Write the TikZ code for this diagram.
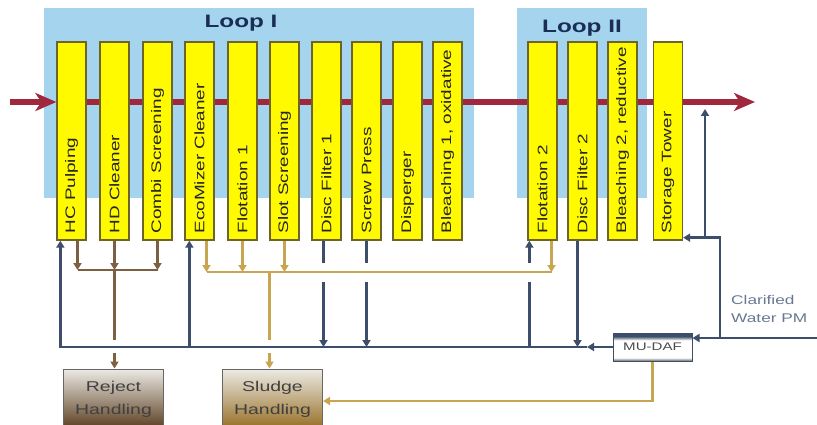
\documentclass[tikz,border=0pt]{standalone}
\usepackage{fontspec}
\setmainfont{Liberation Sans}
\usepackage{graphicx}
\definecolor{loopblue}{RGB}{165,212,238}
\definecolor{unityellow}{RGB}{255,250,0}
\definecolor{unitedge}{RGB}{110,100,40}
\definecolor{pulpred}{RGB}{160,40,60}
\definecolor{waternavy}{RGB}{60,78,105}
\definecolor{rejectbrown}{RGB}{125,95,65}
\definecolor{sludgegold}{RGB}{200,165,80}
\definecolor{labelnavy}{RGB}{25,45,85}
\definecolor{cwgray}{RGB}{105,120,145}
\usetikzlibrary{arrows.meta,positioning,calc,backgrounds}
\newcommand{\widen}[1]{\scalebox{1.37}[1]{#1}}
\pgfdeclareverticalshading{mudafshade}{100bp}{color(0bp)=(black!50); color(26bp)=(black!50);
  color(31bp)=(white); color(62bp)=(white); color(69bp)=(waternavy); color(100bp)=(waternavy)}

\begin{document}
\begin{tikzpicture}[x=1pt, y=-1pt,
    unit/.style={rectangle, draw=unitedge, fill=unityellow, line width=1.3pt,
                 minimum width=29pt, minimum height=198pt, inner sep=0pt},
    unitlabel/.style={rotate=90, anchor=west, inner sep=0pt, text=black!85,
                 font=\fontsize{13.8}{14}\selectfont},
    loopbg/.style={rectangle, fill=loopblue, inner sep=0pt},
    looptitle/.style={text=labelnavy, font=\bfseries\fontsize{18}{20}\selectfont},
    handling/.style={rectangle, draw=black!60, line width=1pt, minimum width=100pt,
                 minimum height=60pt, align=center, text=black!75,
                 font=\fontsize{14.2}{23}\selectfont},
    flow/.style={line width=6pt, pulpred, -{Stealth[length=21pt,width=18pt,inset=6pt]}},
    water/.style={line width=2.9pt, waternavy},
    reject/.style={line width=2.7pt, rejectbrown},
    sludge/.style={line width=2.7pt, sludgegold},
    tip/.style={-{Triangle[length=7pt,width=8pt]}}]

\useasboundingbox (0,0) rectangle (817,425);

% process units
\node[unit] (hc) at (71.5,141) {};
\node[unit] (hd) at (114.5,141) {};
\node[unit] (combi) at (157.5,141) {};
\node[unit] (eco) at (199.5,141) {};
\node[unit] (flot1) at (242.5,141) {};
\node[unit] (slot) at (284.5,141) {};
\node[unit] (disc1) at (326.5,141) {};
\node[unit] (screw) at (366.5,141) {};
\node[unit] (disp) at (407.5,141) {};
\node[unit] (bleach1) at (447.5,141) {};
\node[unit] (flot2) at (542.5,141) {};
\node[unit] (disc2) at (582.5,141) {};
\node[unit] (bleach2) at (622.5,141) {};
\node[unit] (store) at (668,141) {};

\node[unitlabel] (hc-t) at ([yshift=7pt]hc.south) {\widen{HC Pulping}};
\node[unitlabel] (hd-t) at ([yshift=7pt]hd.south) {\widen{HD Cleaner}};
\node[unitlabel] (combi-t) at ([yshift=7pt]combi.south) {\widen{Combi Screening}};
\node[unitlabel] (eco-t) at ([yshift=7pt]eco.south) {\widen{EcoMizer Cleaner}};
\node[unitlabel] (flot1-t) at ([yshift=7pt]flot1.south) {\widen{Flotation 1}};
\node[unitlabel] (slot-t) at ([yshift=7pt]slot.south) {\widen{Slot Screening}};
\node[unitlabel] (disc1-t) at ([yshift=7pt]disc1.south) {\widen{Disc Filter 1}};
\node[unitlabel] (screw-t) at ([yshift=7pt]screw.south) {\widen{Screw Press}};
\node[unitlabel] (disp-t) at ([yshift=7pt]disp.south) {\widen{Disperger}};
\node[unitlabel] (bleach1-t) at ([yshift=7pt]bleach1.south) {\widen{Bleaching 1, oxidative}};
\node[unitlabel] (flot2-t) at ([yshift=7pt]flot2.south) {\widen{Flotation 2}};
\node[unitlabel] (disc2-t) at ([yshift=7pt]disc2.south) {\widen{Disc Filter 2}};
\node[unitlabel] (bleach2-t) at ([yshift=7pt]bleach2.south) {\widen{Bleaching 2, reductive}};
\node[unitlabel] (store-t) at ([yshift=7pt]store.south) {\widen{Storage Tower}};

\node[looptitle] (loop1-t) at (241,23) {\scalebox{1.35}[1]{Loop I}};
\node[looptitle] (loop2-t) at (582,28) {\scalebox{1.35}[1]{Loop II}};

% handling boxes
\node[handling, top color={rgb,255:red,236;green,234;blue,228},
      bottom color={rgb,255:red,90;green,60;blue,30}] (rejbox) at (113.5,399)
      {\widen{Reject}\\\widen{Handling}};
\node[handling, top color={rgb,255:red,236;green,234;blue,228},
      bottom color={rgb,255:red,150;green,110;blue,35}] (sludgebox) at (272.5,399)
      {\widen{Sludge}\\\widen{Handling}};
\node[rectangle, draw=waternavy, line width=1pt, minimum width=79pt, minimum height=28pt,
      shading=mudafshade, inner sep=0pt,
      text=black!70, font=\fontsize{11}{12}\selectfont] (mudaf) at (652.5,347) {\widen{MU-DAF}};
\node[anchor=west, align=left, text=cwgray, inner sep=0pt,
      font=\fontsize{12.6}{18}\selectfont] (cwlabel) at (731,309)
      {\widen{Clarified}\\\widen{Water PM}};

% stock flow
\coordinate (pulpin) at (10,102);
\coordinate (pulpout) at (755,102);
\draw[flow] (pulpin) -- (pulpin -| hc.west);
\begin{scope}[on background layer]
\node[loopbg, minimum width=430pt, minimum height=190pt] (loop1) at (259,103) {};
\node[loopbg, minimum width=130pt, minimum height=190pt] (loop2) at (582,103) {};
\draw[flow] (pulpin -| hc) -- (pulpout);
\end{scope}

% helper heights
\coordinate (rjbar) at (0,270);
\coordinate (sgbar) at (0,272);
\coordinate (gaptop) at (0,263);
\coordinate (gapbot) at (0,282);
\coordinate (xtop) at (0,340);
\coordinate (xbot) at (0,353);
\coordinate (wmid) at (587,347);
\coordinate (sdret) at (0,401);

% water
\coordinate (cwin) at (817,338);
\coordinate (cwup) at (720,338);
\coordinate (dilfoot) at (705,237);
\coordinate (diltop) at (705,109);
\draw[water,tip] (cwin) -- (cwin -| mudaf.east);
\draw[water,tip] (cwup) |- ([yshift=3pt]store.south east);
\draw[water,tip] (dilfoot) -- (diltop);
\draw[water,tip] (mudaf.west) -- (wmid);
\draw[water,tip] (wmid) -| ([xshift=4pt]hc.south west);
\draw[water,tip] ([xshift=5pt]eco.south west |- wmid) -- ([xshift=5pt]eco.south west);
\draw[water] ([xshift=2pt]flot2.south west |- wmid) -- ([xshift=2pt]flot2.south west |- gapbot);
\draw[water,tip] ([xshift=2pt]flot2.south west |- gaptop) -- ([xshift=2pt]flot2.south west);
\draw[water] ([xshift=-3pt]disc1.south) -- ([xshift=-3pt]disc1.south |- gaptop);
\draw[water,tip] ([xshift=-3pt]disc1.south |- gapbot) -- ([xshift=-3pt]disc1.south |- wmid);
\draw[water] (screw.south) -- (screw.south |- gaptop);
\draw[water,tip] (screw.south |- gapbot) -- (screw.south |- wmid);
\draw[water,tip] ([xshift=-5pt]disc2.south) -- ([xshift=-5pt]disc2.south |- wmid);

% rejects
\draw[reject,tip] ([xshift=6pt]hc.south) -- ([xshift=6pt]hc.south |- rjbar);
\draw[reject,tip] (hd.south) -- (hd.south |- rjbar);
\draw[reject,tip] (combi.south) -- (combi.south |- rjbar);
\draw[reject] ([xshift=6pt]hc.south |- rjbar) -- (combi.south |- rjbar);
\draw[reject] (hd.south |- rjbar) -- (hd.south |- xtop);
\draw[reject,tip] (hd.south |- xbot) -- (hd.south |- rejbox.north);

% sludge
\draw[sludge,tip] ([xshift=7pt]eco.south) -- ([xshift=7pt]eco.south |- sgbar);
\draw[sludge,tip] (flot1.south) -- (flot1.south |- sgbar);
\draw[sludge,tip] (slot.south) -- (slot.south |- sgbar);
\draw[sludge,tip] ([xshift=9pt]flot2.south) -- ([xshift=9pt]flot2.south |- sgbar);
\draw[sludge] ([xshift=7pt]eco.south |- sgbar) -- ([xshift=9pt]flot2.south |- sgbar);
\draw[sludge] ([xshift=-3pt]sludgebox.north |- sgbar) -- ([xshift=-3pt]sludgebox.north |- xtop);
\draw[sludge,tip] ([xshift=-3pt]sludgebox.north |- xbot) -- ([xshift=-3pt]sludgebox.north);
\draw[sludge,tip] (mudaf.south) |- (sludgebox.east |- sdret);
\end{tikzpicture}
\end{document}
